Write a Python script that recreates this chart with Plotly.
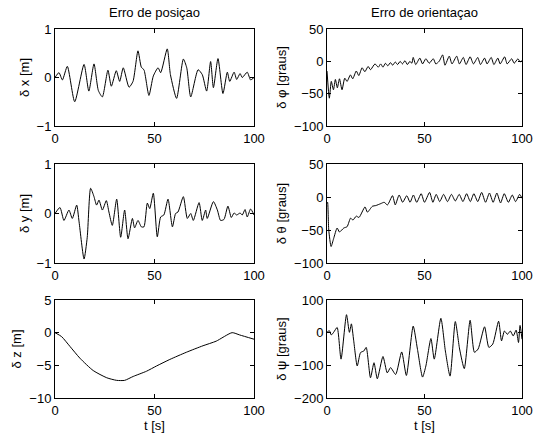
import plotly.graph_objects as go

# ---------------- data ----------------
t_x = [0, 2, 3.7, 6.2, 9.9, 14.6, 17, 19.6, 21.8, 23.8, 26.6, 28.3, 30.8, 32.5, 34.3, 37.2,
       39.2, 41.7, 43.4, 44.7, 47.2, 49.4, 51.8, 53.1, 56.4, 58.0, 61.1, 64.5, 66.2, 68.2,
       71.9, 74.0, 76.2, 78.2, 79.6, 81.9, 84.4, 86.6, 87.8, 90, 91.3, 93, 94.1, 96.6, 98.3, 100]
dx = [0, 0.1, -0.05, 0.23, -0.5, 0.27, -0.28, 0.28, -0.27, -0.4, 0.15, -0.18, 0.14, -0.08, 0.2, -0.2,
      -0.08, 0.55, 0.21, 0.16, -0.37, 0.03, 0.2, 0.1, 0.59, 0.06, -0.43, 0.38, 0.2, -0.4,
      0.16, 0.06, -0.28, 0.33, -0.21, 0.39, -0.33, 0.11, -0.08, 0.11, -0.04, 0.08, 0, 0.11, -0.05, 0]

t_y = [0, 2.5, 4.5, 7, 8.7, 10.9, 12.1, 14.6, 16.2, 17.9, 19.6, 20.9, 22.1, 23.8, 25.8, 27.1,
       28.8, 31, 33, 35, 36.7, 38.9, 40, 41.7, 43.4, 44.7, 46.4, 47.6, 49.4, 51.4, 53.1, 54.7,
       56.8, 59, 60.6, 61.8, 64.5, 66.5, 68.2, 69.5, 72.4, 74, 75.7, 76.5, 79.6, 81.6, 83.2,
       84.9, 86.9, 88.6, 90, 91.3, 93, 94.1, 95.5, 96.6, 98.3, 100]
dy = [0, 0.12, -0.14, 0.07, -0.1, 0.17, -0.17, -0.92, -0.48, 0.51, 0.34, 0.17, 0.27, 0.07, 0.26, 0.03,
      -0.24, 0.29, -0.48, 0.07, -0.51, -0.1, -0.29, -0.14, -0.27, -0.27, 0.21, 0.1, 0.41, -0.47, -0.07, -0.03,
      0.29, -0.27, 0, 0.03, 0.34, -0.1, 0, -0.14, 0.22, -0.14, 0.07, -0.1, 0.24, 0.07, -0.14,
      -0.12, 0.15, -0.08, 0.01, -0.03, 0.01, -0.03, 0.08, -0.07, 0.09, -0.03]

t_z = [0, 3.3, 7.5, 12.5, 19.2, 26, 31, 35, 39.3, 46, 51, 57.7, 66, 74.4, 81, 89, 92.8, 100]
dz = [0, -0.6, -2.1, -3.9, -5.8, -6.9, -7.3, -7.3, -6.7, -5.9, -5.1, -4.1, -3.0, -2.0, -1.3, 0, -0.35, -1.0]

t_phi = [0, 1.2, 2.2, 3.3, 4.3, 5.3, 6.4, 7.7, 9.1, 10.3, 12, 13.2, 15, 16.3, 18, 19.4, 21.1, 22.3,
         24.6, 26.3, 27.5, 28.7, 30, 31.2, 32.5, 33.7, 35, 36.2, 37.5, 38.7, 40, 41.2, 42.5, 43.5,
         44.2, 45.5, 47.6, 49, 50.7, 52.4, 54.5, 55.8, 57.5, 59.3, 60.5, 62.7, 64.1, 66.5, 67.9,
         69.9, 71.3, 73.4, 75.1, 77.3, 78.7, 80.8, 82.1, 84.2, 85.6, 87.6, 88.8, 91.1, 92.4,
         94.7, 96, 97.9, 99.1, 100]
dphi = [-15, -57, -31, -44, -28, -41, -27, -44, -26, -31, -21, -27, -15, -22, -10, -16, -8, -13,
        -4, -9, -4, -9, -3, -7, -2, -6, -1, -5, 0, -4, 1, -5, 0, -3,
        6, -5, 5, -4, 4, -3, 4, -4, 0, 10, -6, 8, -4, 8, -4,
        6, -5, 7, -4, 6, -5, 5, -4, 6, -5, 5, -4, 7, -4,
        4, -3, 4, -1, 1.5]

t_th = [0, 0.3, 0.9, 2.1, 3.4, 5.2, 6.4, 8.6, 10.3, 12.1, 13.3, 15, 16.4, 19.5, 20.7, 23.3, 25,
        27.6, 29.3, 31, 33.6, 35, 37, 38.8, 40.9, 42.6, 44.3, 46, 48.3, 50, 52.6, 54.3, 56,
        57.8, 59.8, 61.8, 63.8, 65.8, 67.8, 69.7, 71.6, 73.5, 75.3, 77.3, 79.3, 81.3, 83.3,
        85.2, 87.1, 89, 90.9, 93, 95, 96.7, 98.8, 100]
dth = [-10, -8, -50, -75, -63, -47, -53, -47, -45, -32, -35, -29, -31, -15, -23, -14, -13,
       -10, -8, -12, 2, -12, 3, -8, 2, -8, 3, -8, 5, -8, 7, -8, 4,
       -7, 4, -7, 4, -6, 4, -7, 5, -7, 5, -7, 7, -8, 6,
       -8, 6, -9, 5, -8, 3, -7, 4, -2]

t_psi = [0, 1.2, 2.2, 3.4, 5.2, 7.2, 10, 11.5, 12.5, 13.7, 15.5, 17.2, 18.9, 20.1, 22.3, 24.1,
         25.8, 28.7, 30.9, 32.6, 35.2, 38.3, 40.7, 44.2, 46.4, 49, 50.7, 53.3, 55, 58.4, 60.7,
         63.1, 65.8, 68, 70.4, 73.4, 75.6, 77.5, 80.8, 83, 85, 88, 89.5, 91, 92.5, 94, 95.5,
         97, 98.2, 99, 100]
dpsi = [1, 6, -7, 1, 16, -81, 55, 1, 27, -25, -102, -61, -56, -45, -138, -92,
        -141, -73, -123, -107, -128, -59, -131, 20, -51, -136, -102, -18, -81, 44, -56,
        -133, 34, -50, -110, 38, -60, -50, 18, -45, -35, 35, -25, 5, -5, 5, -10,
        8, -30, 22, -20]

x_ticks = [0, 50, 100]
titles = ["Erro de posiçao", "Erro de orientaçao"]

panels = [
    # (t, values, y-range, y-ticks, y-title, column, row)
    (t_x, dx, [-1, 1], [-1, 0, 1], "δ x [m]", 0, 0),
    (t_y, dy, [-1, 1], [-1, 0, 1], "δ y [m]", 0, 1),
    (t_z, dz, [-10, 5], [-10, -5, 0, 5], "δ z [m]", 0, 2),
    (t_phi, dphi, [-100, 50], [-100, -50, 0, 50], "δ φ [graus]", 1, 0),
    (t_th, dth, [-100, 50], [-100, -50, 0, 50], "δ θ [graus]", 1, 1),
    (t_psi, dpsi, [-200, 100], [-200, -100, 0, 100], "δ ψ [graus]", 1, 2),
]

W, H = 535, 440
col_px = [(55, 254), (327, 522)]
row_px = [(29, 126), (164, 263), (300, 398)]

FONT = "Liberation Sans, Arial, Helvetica, sans-serif"
fig = go.Figure()
layout = {}
for i, (tt, vv, yr, yt, ytitle, c, r) in enumerate(panels):
    n = i + 1
    xa = "xaxis" if n == 1 else f"xaxis{n}"
    ya = "yaxis" if n == 1 else f"yaxis{n}"
    xref = "x" if n == 1 else f"x{n}"
    yref = "y" if n == 1 else f"y{n}"
    fig.add_trace(go.Scatter(x=tt, y=vv, mode="lines", xaxis=xref, yaxis=yref,
                             line=dict(color="black", width=1, shape="spline", smoothing=0.6),
                             showlegend=False, hoverinfo="skip"))
    common = dict(showline=True, linecolor="black", linewidth=1, mirror="allticks",
                  ticks="inside", ticklen=4, tickcolor="black", tickwidth=1,
                  showgrid=False, zeroline=False, automargin=False,
                  tickfont=dict(family=FONT, size=13, color="black"))
    x0, x1 = col_px[c]
    y0, y1 = row_px[r]
    layout[xa] = dict(common, domain=[x0 / W, x1 / W], range=[0, 100], tickvals=x_ticks,
                      anchor=yref,
                      title=dict(text="t [s]" if r == 2 else "", standoff=2,
                                 font=dict(family=FONT, size=13, color="black")))
    layout[ya] = dict(common, domain=[1 - y1 / H, 1 - y0 / H], range=yr, tickvals=yt,
                      anchor=xref,
                      title=dict(text=ytitle, standoff=4,
                                 font=dict(family=FONT, size=13, color="black")))

annotations = []
for c, txt in enumerate(titles):
    x0, x1 = col_px[c]
    annotations.append(dict(text=txt, x=(x0 + x1) / 2 / W, y=1 - 13 / H, xref="paper", yref="paper",
                            showarrow=False, xanchor="center", yanchor="middle",
                            font=dict(family=FONT, size=13, color="black")))

fig.update_layout(width=W, height=H, margin=dict(l=0, r=0, t=0, b=0, autoexpand=False),
                  paper_bgcolor="white", plot_bgcolor="white",
                  annotations=annotations, **layout)
fig.write_html("out.html", config={"displayModeBar": False},
               post_script="document.body.style.margin='0px';")
